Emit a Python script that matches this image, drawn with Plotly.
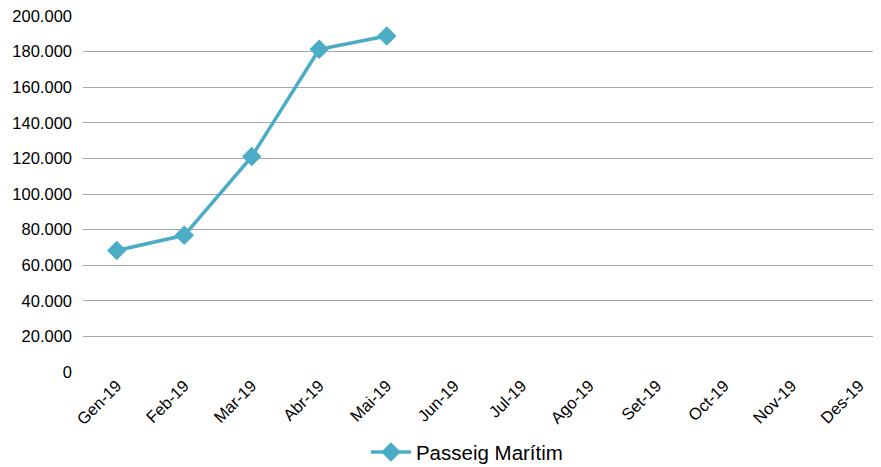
import plotly.graph_objects as go

months = ["Gen-19", "Feb-19", "Mar-19", "Abr-19", "Mai-19", "Jun-19", "Jul-19",
          "Ago-19", "Set-19", "Oct-19", "Nov-19", "Des-19"]
values = [68300, 76800, 121000, 181300, 188800, None, None, None, None, None, None, None]
y_ticks = [0, 20000, 40000, 60000, 80000, 100000, 120000, 140000, 160000, 180000, 200000]

fig = go.Figure()
fig.add_trace(go.Scatter(
    x=months, y=values, mode="lines+markers", name="Passeig Marítim",
    line=dict(color="#4bacc6", width=3.5),
    marker=dict(symbol="diamond", size=15, color="#4bacc6"),
))

# page body has an 8px default margin, so the figure is offset by (8, 8);
# the plot area runs slightly past the right edge of the window, as in the reference
fig.update_layout(
    width=900, height=467,
    margin=dict(l=75, r=15, t=8, b=103, autoexpand=False),
    paper_bgcolor="white", plot_bgcolor="white",
    separators=",.",
    font=dict(family="Liberation Sans, Arial, sans-serif", color="#000000", size=16.5),
    showlegend=True,
    legend=dict(orientation="h", x=0.474, xanchor="center", y=-0.225, yanchor="middle",
                font=dict(size=20.5), itemwidth=40),
    xaxis=dict(type="category", range=[-0.5, 11.5], showgrid=False, showline=False,
               zeroline=False, tickangle=-45, ticks="", tickfont=dict(size=16.5),
               automargin=False),
    yaxis=dict(range=[0, 200000], tickvals=y_ticks, tickformat=",d",
               showgrid=True, gridcolor="#a6a6a6", gridwidth=1, zeroline=False,
               showline=False, ticks="", tickfont=dict(size=16.5), ticklabelstandoff=10,
               ticklabeloverflow="allow", automargin=False),
)

fig.write_html("out.html")
